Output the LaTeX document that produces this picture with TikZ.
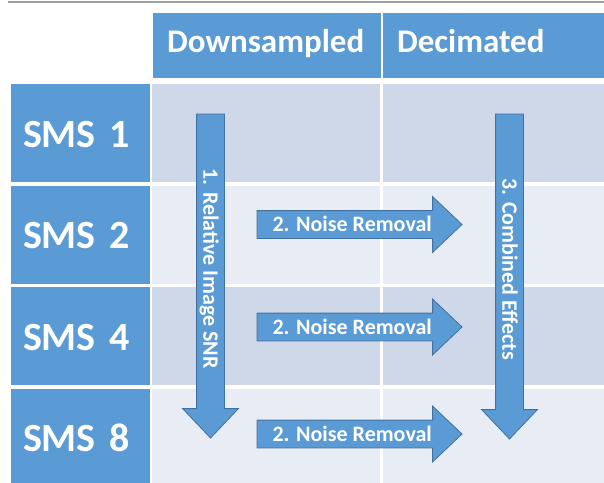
\documentclass[tikz,border=0pt]{standalone}
\usepackage{fontspec}
\setmainfont{Carlito}
\usetikzlibrary{positioning, shapes.arrows}
\definecolor{tblblue}{HTML}{5B9BD5}
\definecolor{arrline}{HTML}{41719C}
\definecolor{banddark}{HTML}{CFD8E9}
\definecolor{bandlight}{HTML}{E8ECF4}

\begin{document}
\begin{tikzpicture}[
		x=1pt, y=-1pt,
		node distance=2pt and 2pt,
		every node/.style={inner sep=0pt, outer sep=0pt},
		hdr/.style={fill=tblblue, text=white, font=\bfseries\fontsize{33}{33}\selectfont,
			text width=200pt, inner xsep=14pt, align=left, minimum height=65pt,
			text height=20pt, text depth=7pt},
		rowlbl/.style={fill=tblblue, text=white, font=\bfseries\fontsize{40}{40}\selectfont,
			text width=115pt, inner xsep=12pt, align=left, minimum height=98pt,
			text height=28pt, text depth=0pt, anchor=north west},
		cell/.style={minimum width=228pt, minimum height=98pt},
		blockarrow/.style={single arrow, draw=arrline, line width=0.8pt, fill=tblblue,
			text=white, font=\bfseries\fontsize{22}{22}\selectfont,
			single arrow head extend=14pt, single arrow tip angle=87,
			text height=14.5pt, text depth=0pt, inner ysep=6.25pt, inner xsep=4pt}
		]
		\clip (0,0) rectangle (604,482);
		\draw[gray!75, line width=1.2pt] (8,2) -- (604,2);
		% header row
		\node[hdr, anchor=north west] (headDown) at (153,13) {Downsampled};
		\node[hdr, right=of headDown] (headDeci) {Decimated};
		% rows
		\foreach \n/\lbl/\col [count=\i from 0] in {one/1/banddark, two/2/bandlight, four/4/banddark, eight/8/bandlight}{
			\node[rowlbl] (sms\n) at (11,84+101.5*\i) {SMS \lbl};
			\node[cell, fill=\col, right=of sms\n] (down\n) {};
			\node[cell, fill=\col, right=3pt of down\n] (deci\n) {};
		}
		% arrows
		\node[blockarrow, rotate=-90, anchor=tail, minimum height=324pt] (relsnr) at (210.5,114) {1. Relative Image SNR};
		\node[blockarrow, rotate=-90, anchor=tail, minimum height=325pt] (combined) at (509.5,114) {3. Combined Effects};
		\foreach \n/\y in {two/224.5, four/327, eight/434}
			\node[blockarrow, anchor=tail, minimum height=205pt] (noise\n) at (257,\y) {2. Noise Removal};
	\end{tikzpicture}
\end{document}
